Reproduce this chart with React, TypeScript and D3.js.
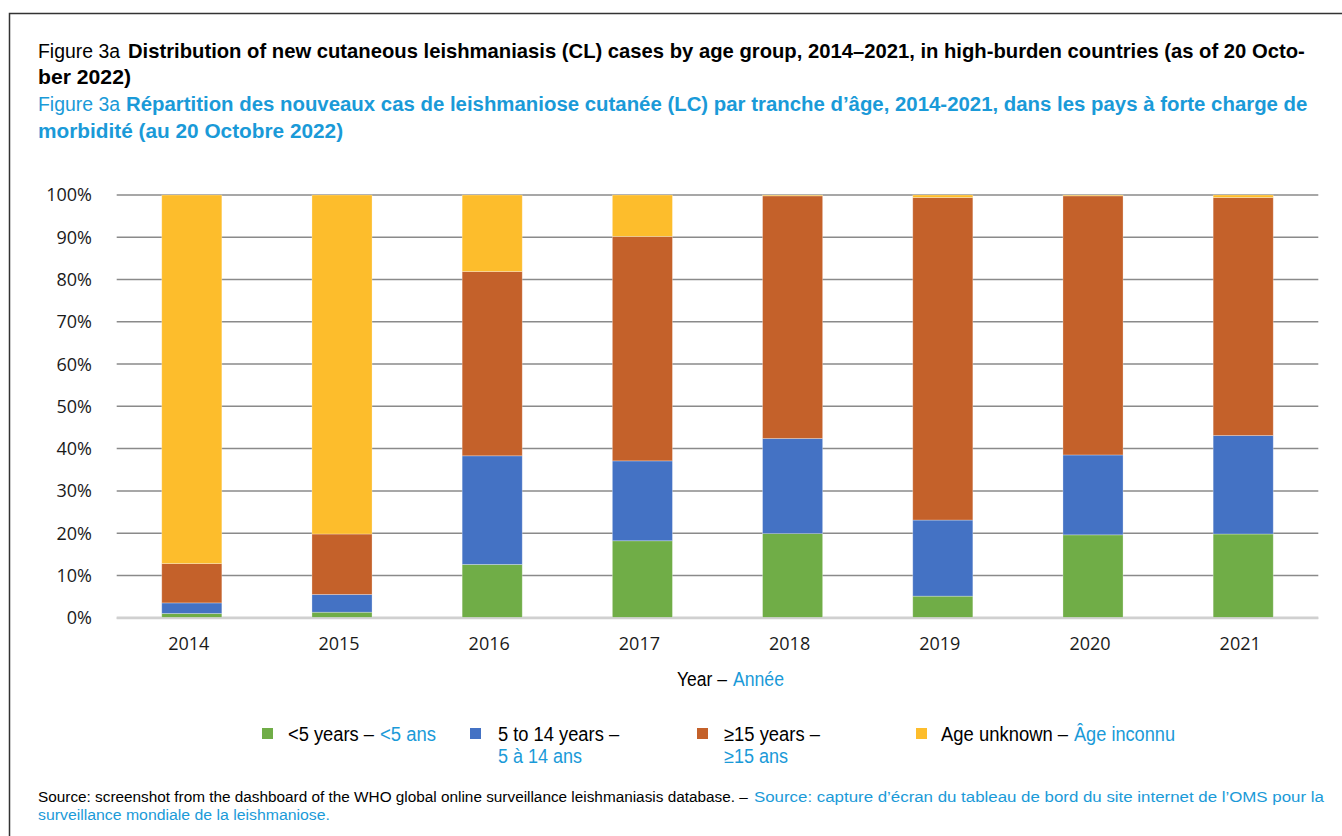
import React, { useLayoutEffect, useRef, useState } from "react";
import * as d3 from "d3";

const years = ["2014", "2015", "2016", "2017", "2018", "2019", "2020", "2021"];
// percentage share of each age group (stack order bottom -> top)
const under5 = [1.0, 1.3, 12.6, 18.2, 19.9, 5.1, 19.6, 19.8];
const age5to14 = [2.5, 4.2, 25.7, 18.9, 22.5, 18.0, 18.9, 23.3];
const over15 = [9.3, 14.3, 43.6, 53.1, 57.4, 76.3, 61.3, 56.3];
const unknown = [87.2, 80.2, 18.1, 9.8, 0.2, 0.6, 0.2, 0.6];
const yTicks = [0, 10, 20, 30, 40, 50, 60, 70, 80, 90, 100];

const seriesKeys = ["under5", "age5to14", "over15", "unknown"];
const seriesColors = ["#70AD47", "#4472C4", "#C4612A", "#FDBD2C"];

const BLUE = "#1A9AD8";
const NARROW = "'Liberation Sans Narrow', 'Liberation Sans', Arial, sans-serif";
const AXISFONT = "'Open Sans', 'Noto Sans', sans-serif";

type T = { x: number; y: number; w: number; s: string; c?: string; b?: boolean; fs?: number };

// text runs: x, baseline, fitted width
const textRuns: T[] = [
  { x: 38, y: 58, w: 82, s: "Figure 3a", fs: 21 },
  { x: 128, y: 58, w: 1177, s: "Distribution of new cutaneous leishmaniasis (CL) cases by age group, 2014–2021, in high-burden countries (as of 20 Octo-", b: true, fs: 21 },
  { x: 38, y: 84, w: 93, s: "ber 2022)", b: true, fs: 21 },
  { x: 38, y: 111, w: 82, s: "Figure 3a", c: BLUE, fs: 21 },
  { x: 126, y: 111, w: 1181, s: "Répartition des nouveaux cas de leishmaniose cutanée (LC) par tranche d’âge, 2014-2021, dans les pays à forte charge de", b: true, c: BLUE, fs: 21 },
  { x: 38, y: 138, w: 305, s: "morbidité (au 20 Octobre 2022)", b: true, c: BLUE, fs: 21 },
  { x: 677, y: 686, w: 50, s: "Year –" },
  { x: 733, y: 686, w: 51, s: "Année", c: BLUE },
  { x: 288, y: 741, w: 86, s: "<5 years –" },
  { x: 380, y: 741, w: 56, s: "<5 ans", c: BLUE },
  { x: 498, y: 741, w: 121, s: "5 to 14 years –" },
  { x: 498, y: 763, w: 84, s: "5 à 14 ans", c: BLUE },
  { x: 724, y: 741, w: 96, s: "≥15 years –" },
  { x: 724, y: 763, w: 64, s: "≥15 ans", c: BLUE },
  { x: 941, y: 741, w: 127, s: "Age unknown –" },
  { x: 1074, y: 741, w: 101, s: "Âge inconnu", c: BLUE },
  { x: 38, y: 802, w: 710, s: "Source: screenshot from the dashboard of the WHO global online surveillance leishmaniasis database. –", fs: 15.5 },
  { x: 754, y: 802, w: 570, s: "Source: capture d’écran du tableau de bord du site internet de l’OMS pour la", c: BLUE, fs: 15.5 },
  { x: 38, y: 820, w: 292, s: "surveillance mondiale de la leishmaniose.", c: BLUE, fs: 15.5 },
];

function FitText({ r }: { r: T }) {
  const ref = useRef<SVGTextElement>(null);
  const [k, setK] = useState(1);
  useLayoutEffect(() => {
    const measure = () => {
      if (ref.current) {
        const n = ref.current.getComputedTextLength();
        if (n > 0) setK(r.w / n);
      }
    };
    measure();
    if ((document as any).fonts && (document as any).fonts.ready) {
      (document as any).fonts.ready.then(measure);
    }
  }, [r.w, r.s]);
  return (
    <text
      ref={ref}
      transform={`translate(${r.x},${r.y}) scale(${k},1)`}
      fontFamily={NARROW}
      fontSize={r.fs ?? 19.5}
      fontWeight={r.b ? "bold" : "normal"}
      fill={r.c ?? "#000"}
    >
      {r.s}
    </text>
  );
}

export default function App() {
  const W = 1342;
  const H = 836;
  const x = d3
    .scaleBand<string>()
    .domain(years)
    .range([116.7, 1318.3])
    .paddingInner(0.6)
    .paddingOuter(0.3);
  const y = d3.scaleLinear().domain([0, 100]).range([617.7, 195]);

  const rows = years.map((yr, i) => ({
    year: yr,
    under5: under5[i],
    age5to14: age5to14[i],
    over15: over15[i],
    unknown: unknown[i],
  }));
  const stacked = d3.stack<any>().keys(seriesKeys)(rows);

  const legendX = [262, 470, 697, 916];

  return (
    <svg
      width={W}
      height={H}
      style={{ position: "absolute", left: 0, top: 0, background: "#fff" }}
    >
      <rect x={0} y={0} width={W} height={H} fill="#fff" />
      <rect x={9.5} y={13.5} width={1500} height={1000} fill="none" stroke="#333" strokeWidth={1.5} />

      {/* Gridlines */}
      {yTicks.map((t) => (
        <line
          key={"g" + t}
          x1={116.7}
          x2={1318.3}
          y1={y(t)}
          y2={y(t)}
          stroke={t === 0 ? "#D0D0D0" : "#8A8A8A"}
          strokeWidth={t === 0 ? 2.5 : 1.5}
        />
      ))}

      {/* Bars */}
      {stacked.map((s, si) => (
        <g key={s.key} fill={seriesColors[si]}>
          {s.map((d: any, i: number) => (
            <rect
              key={i}
              x={x(years[i])}
              width={x.bandwidth()}
              y={y(d[1])}
              height={Math.max(0, y(d[0]) - y(d[1]))}
              stroke="rgba(255,255,255,0.35)"
              strokeWidth={0.8}
            />
          ))}
        </g>
      ))}

      <line x1={116.7} x2={1318.3} y1={y(0) + 0.5} y2={y(0) + 0.5} stroke="#D0D0D0" strokeWidth={2} />

      {/* Y tick labels */}
      {yTicks.map((t) => (
        <text
          key={"t" + t}
          x={92}
          y={y(t)}
          dy="0.36em"
          textAnchor="end"
          fontFamily={AXISFONT}
          fontSize={18}
          fill="#1a1a1a"
        >
          {t + "%"}
        </text>
      ))}

      {/* X tick labels */}
      {years.map((yr) => (
        <text
          key={"x" + yr}
          x={(x(yr) as number) + x.bandwidth() / 2 - 3}
          y={650}
          textAnchor="middle"
          fontFamily={AXISFONT}
          fontSize={18}
          fill="#1a1a1a"
        >
          {yr}
        </text>
      ))}

      {/* Legend swatches */}
      {seriesKeys.map((k, i) => (
        <rect key={"l" + k} x={legendX[i]} y={728} width={11} height={11} fill={seriesColors[i]} />
      ))}

      {/* Texts */}
      {textRuns.map((r, i) => (
        <FitText key={"r" + i} r={r} />
      ))}
    </svg>
  );
}
